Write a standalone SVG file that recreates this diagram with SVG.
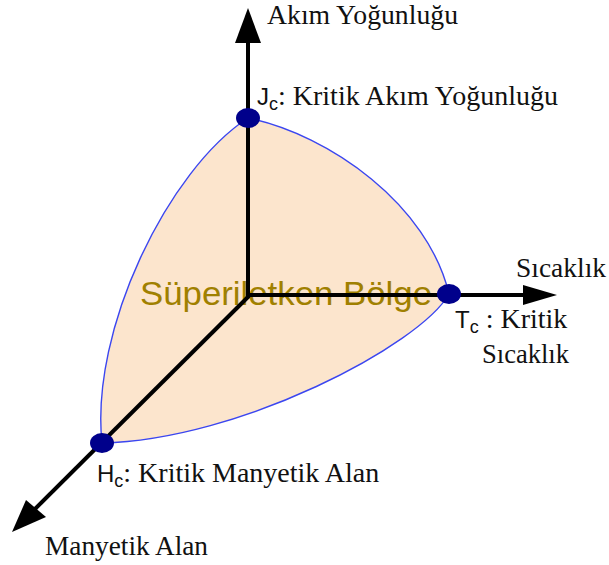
<svg xmlns="http://www.w3.org/2000/svg" width="609" height="565" viewBox="0 0 609 565">
<style>
.serif{font-family:"Liberation Serif","Times New Roman",serif;font-size:28px;fill:#111}
.sans{font-family:"Liberation Sans",Arial,sans-serif;font-size:24px;fill:#111}
.sub{font-family:"Liberation Sans",Arial,sans-serif;font-size:18px;fill:#111}
.axis{stroke:#000;stroke-width:4;fill:none}
.head{fill:#000}
.dot{fill:#00008B}
</style>
<rect width="609" height="565" fill="#fff"/>
<g id="region">
<path d="M248,118 C330,135 428,205 449,294 C420,345 240,440 102,443 C90,330 168,170 248,118 Z" fill="#FCE5CD" stroke="#3B46F0" stroke-width="1.4"/>
<text x="140" y="305" font-family="'Liberation Sans',Arial,sans-serif" font-size="34" fill="#A08000" textLength="292" lengthAdjust="spacingAndGlyphs">Süperiletken Bölge</text>
</g>
<g id="connectors">
<line class="axis" x1="248" y1="297" x2="248" y2="40"/>
<polygon class="head" points="248,8 235,43 261,43"/>
<line class="axis" x1="246" y1="295" x2="526" y2="295"/>
<polygon class="head" points="557,295 523,285 523,305"/>
<line class="axis" x1="249" y1="296" x2="35" y2="509"/>
<polygon class="head" points="12,532 26,500 46,517"/>
</g>
<g id="Jc">
<ellipse class="dot" cx="248" cy="118" rx="12" ry="10"/>
<text x="257" y="105"><tspan class="sans">J</tspan><tspan class="sub" dy="5">c</tspan><tspan class="serif" dy="-5">: Kritik Akım Yoğunluğu</tspan></text>
</g>
<g id="Tc">
<ellipse class="dot" cx="449" cy="294" rx="12" ry="10"/>
<text x="455" y="328"><tspan class="sans">T</tspan><tspan class="sub" dy="5">c</tspan><tspan class="serif" dy="-5"> : Kritik</tspan></text>
<text class="serif" x="482" y="363" textLength="87" lengthAdjust="spacingAndGlyphs">Sıcaklık</text>
</g>
<g id="Hc">
<ellipse class="dot" cx="102" cy="443" rx="12" ry="10"/>
<text x="97" y="482"><tspan class="sans">H</tspan><tspan class="sub" dy="5">c</tspan><tspan class="serif" dy="-5">: Kritik Manyetik Alan</tspan></text>
</g>
<g id="axis-labels">
<text class="serif" x="267" y="24" textLength="191" lengthAdjust="spacingAndGlyphs">Akım Yoğunluğu</text>
<text class="serif" x="516" y="277" textLength="90" lengthAdjust="spacingAndGlyphs">Sıcaklık</text>
<text class="serif" x="45" y="555" textLength="163" lengthAdjust="spacingAndGlyphs">Manyetik Alan</text>
</g>
</svg>
